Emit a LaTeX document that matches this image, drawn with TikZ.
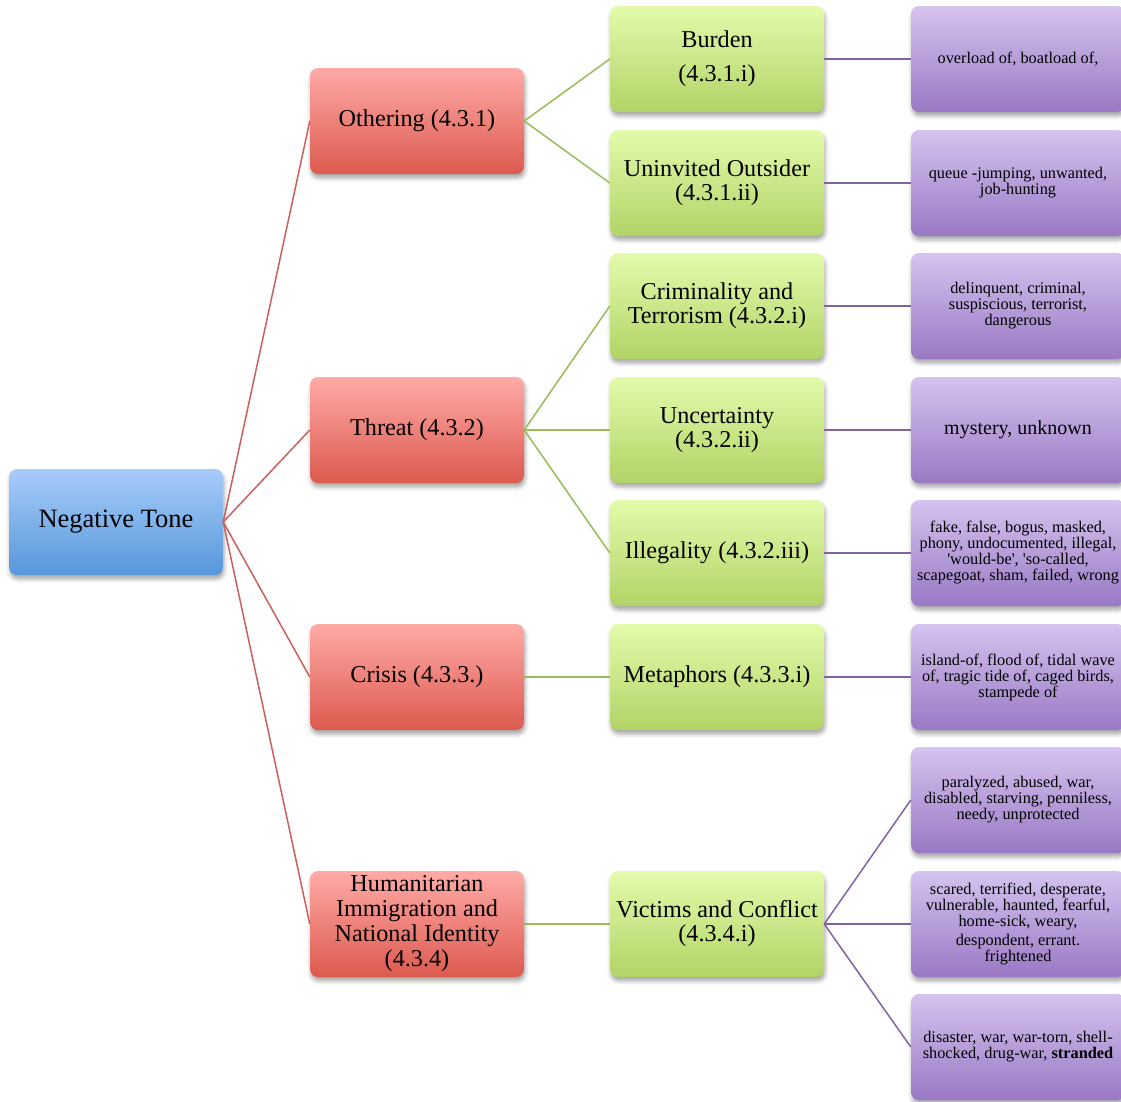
\documentclass[tikz,border=0pt]{standalone}
\usepackage{fontspec}
\setmainfont{Liberation Serif}[Ligatures=TeXOff]
\usetikzlibrary{shadows.blur}

\definecolor{bluetop}{HTML}{A8CCFB}
\definecolor{bluebot}{HTML}{5797DA}
\definecolor{redtop}{HTML}{FFAAA7}
\definecolor{redbot}{HTML}{DC5A4E}
\definecolor{greentop}{HTML}{E3FBAB}
\definecolor{greenbot}{HTML}{B1D467}
\definecolor{purptop}{HTML}{D5C3EF}
\definecolor{purpbot}{HTML}{9979C4}
\definecolor{redline}{HTML}{C9605B}
\definecolor{greenline}{HTML}{9BBB59}
\definecolor{purpline}{HTML}{8064A2}

\tikzset{
	box/.style={rectangle, rounded corners=8pt, minimum width=214pt, minimum height=106pt,
		align=center, inner sep=2pt,
		blur shadow={shadow xshift=1pt, shadow yshift=-4pt, shadow blur radius=4pt, shadow opacity=35}},
	rootbox/.style={box, top color=bluetop, bottom color=bluebot, font=\fontsize{26.5}{28}\selectfont},
	redbox/.style={box, top color=redtop, bottom color=redbot, font=\fontsize{24.2}{25}\selectfont},
	greenbox/.style={box, top color=greentop, bottom color=greenbot, font=\fontsize{24.2}{24}\selectfont},
	purpbox/.style={box, top color=purptop, bottom color=purpbot, font=\fontsize{16.3}{16}\selectfont},
	rededge/.style={redline, line width=1.5pt},
	greenedge/.style={greenline, line width=1.5pt},
	purpedge/.style={purpline, line width=1.5pt}
}

\begin{document}
\begin{tikzpicture}[x=1pt, y=-1pt]
	\useasboundingbox (0, 0) rectangle (1121, 1101);

	\node (root) at (116, 522) [rootbox] {Negative Tone};

	\node (othering) at (417, 121) [redbox] {Othering (4.3.1)};
	\node (threat) at (417, 430) [redbox] {Threat (4.3.2)};
	\node (crisis) at (417, 677) [redbox] {Crisis (4.3.3.)};
	\node (human) at (417, 924) [redbox] {Humanitarian\\Immigration and\\National Identity\\(4.3.4)};

	\node (burden) at (717, 59) [greenbox] {Burden\\[10pt](4.3.1.i)};
	\node (outsider) at (717, 183) [greenbox] {Uninvited Outsider\\(4.3.1.ii)};
	\node (crime) at (717, 306) [greenbox] {Criminality and\\Terrorism (4.3.2.i)};
	\node (uncert) at (717, 430) [greenbox] {Uncertainty\\(4.3.2.ii)};
	\node (illegal) at (717, 553) [greenbox] {Illegality (4.3.2.iii)};
	\node (metaphor) at (717, 677) [greenbox] {Metaphors (4.3.3.i)};
	\node (victims) at (717, 924) [greenbox] {Victims and Conflict\\(4.3.4.i)};

	\node (wburden) at (1018, 59) [purpbox] {overload of, boatload of,};
	\node (woutsider) at (1018, 183) [purpbox] {queue -jumping, unwanted,\\job-hunting};
	\node (wcrime) at (1018, 306) [purpbox] {delinquent, criminal,\\suspiscious, terrorist,\\dangerous};
	\node (wuncert) at (1018, 430) [purpbox, font=\fontsize{20}{20}\selectfont] {mystery, unknown};
	\node (willegal) at (1018, 553) [purpbox] {fake, false, bogus, masked,\\phony, undocumented, illegal,\\'would-be', 'so-called,\\scapegoat, sham, failed, wrong};
	\node (wmetaphor) at (1018, 677) [purpbox] {island-of, flood of, tidal wave\\of, tragic tide of, caged birds,\\stampede of};
	\node (wvictimsa) at (1018, 800) [purpbox] {paralyzed, abused, war,\\disabled, starving, penniless,\\needy, unprotected};
	\node (wvictimsb) at (1018, 924) [purpbox] {scared, terrified, desperate,\\vulnerable, haunted, fearful,\\home-sick, weary,\\[3pt]despondent, errant.\\frightened};
	\node (wvictimsc) at (1018, 1047) [purpbox] {disaster, war, war-torn, shell-\\shocked, drug-war, \textbf{stranded}};

	\draw[rededge] (root.east) -- (othering.west);
	\draw[rededge] (root.east) -- (threat.west);
	\draw[rededge] (root.east) -- (crisis.west);
	\draw[rededge] (root.east) -- (human.west);

	\draw[greenedge] (othering.east) -- (burden.west);
	\draw[greenedge] (othering.east) -- (outsider.west);
	\draw[greenedge] (threat.east) -- (crime.west);
	\draw[greenedge] (threat.east) -- (uncert.west);
	\draw[greenedge] (threat.east) -- (illegal.west);
	\draw[greenedge] (crisis.east) -- (metaphor.west);
	\draw[greenedge] (human.east) -- (victims.west);

	\draw[purpedge] (burden.east) -- (wburden.west);
	\draw[purpedge] (outsider.east) -- (woutsider.west);
	\draw[purpedge] (crime.east) -- (wcrime.west);
	\draw[purpedge] (uncert.east) -- (wuncert.west);
	\draw[purpedge] (illegal.east) -- (willegal.west);
	\draw[purpedge] (metaphor.east) -- (wmetaphor.west);
	\draw[purpedge] (victims.east) -- (wvictimsa.west);
	\draw[purpedge] (victims.east) -- (wvictimsb.west);
	\draw[purpedge] (victims.east) -- (wvictimsc.west);
\end{tikzpicture}
\end{document}
